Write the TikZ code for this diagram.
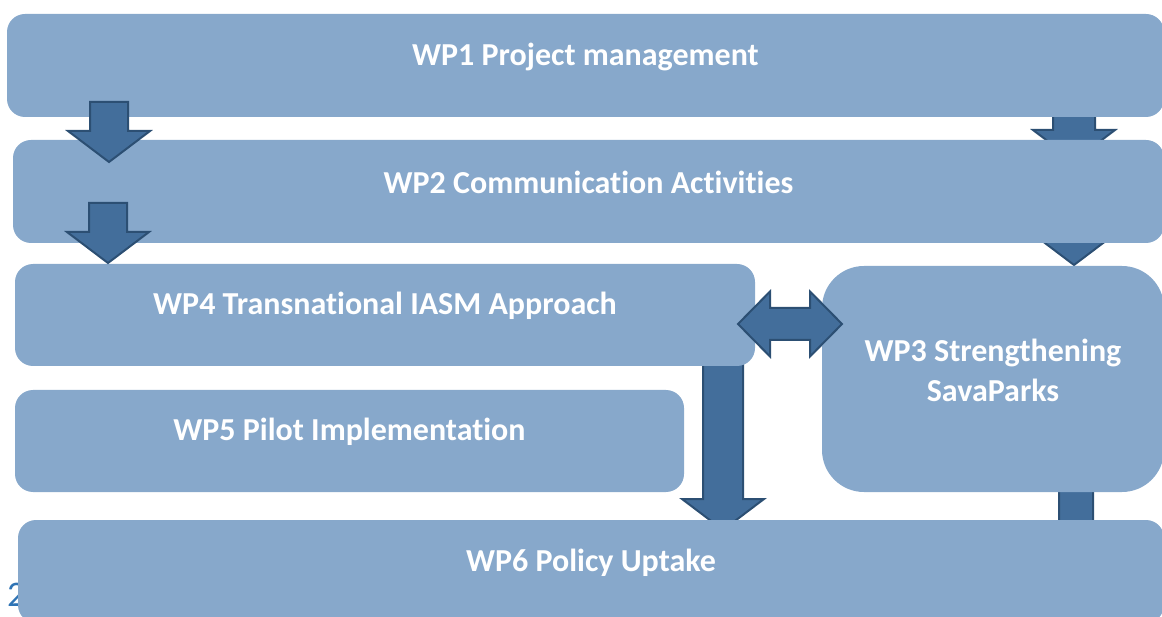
\documentclass[tikz,border=0pt]{standalone}
\usepackage{fontspec}
\setmainfont{Carlito}[RawFeature={-liga}]
\usepackage{xcolor}

\definecolor{boxblue}{HTML}{87A8CB}
\definecolor{arrowblue}{HTML}{436E9B}
\definecolor{arrowline}{HTML}{2C4F73}
\definecolor{pagenum}{HTML}{2F74B5}

\begin{document}
\begin{tikzpicture}[x=1pt, y=-1pt,
  wpbox/.style={fill=boxblue, draw=none, rounded corners=18pt, inner sep=0},
  wptext/.style={text=white, font=\fontsize{32}{40}\selectfont\bfseries, align=center},
  blockarrow/.style={fill=arrowblue, draw=arrowline, line width=2pt, line join=miter}]
\useasboundingbox (0,0) rectangle (1162,617);

\node[text=pagenum, font=\fontsize{36}{36}\selectfont, anchor=base west, inner sep=0] (pagenr) at (7,606) {2};

% arrows hidden behind the boxes: centre x / top y / shaft length / shaft half width
\foreach \cx/\ytop/\len/\sw in {1074/101/29/21, 1074/205/29/21, 723/340/159/20, 1076/470/60/17} {
 \draw[blockarrow] (\cx-\sw,\ytop) -- (\cx+\sw,\ytop) -- (\cx+\sw,\ytop+\len) -- (\cx+41,\ytop+\len)
  -- (\cx,\ytop+\len+31) -- (\cx-41,\ytop+\len) -- (\cx-\sw,\ytop+\len) -- cycle;
}

% work packages
\node[wpbox, minimum width=1157, minimum height=103] (wp1) at (585.5,65.5) {};
\node[wpbox, minimum width=1151, minimum height=103] (wp2) at (588.5,191.5) {};
\node[wpbox, minimum width=740, minimum height=102] (wp4) at (385,315) {};
\node[wpbox, minimum width=342, minimum height=226, rounded corners=42pt] (wp3) at (993,379) {};
\node[wpbox, minimum width=669, minimum height=102] (wp5) at (349.5,441) {};
\node[wpbox, minimum width=1146, minimum height=103] (wp6) at (591,571.5) {};

% arrows on top of the boxes
\foreach \cx/\ytop in {109/102, 108/203} {
 \draw[blockarrow] (\cx-19,\ytop) -- (\cx+19,\ytop) -- (\cx+19,\ytop+29) -- (\cx+41,\ytop+29)
  -- (\cx,\ytop+60) -- (\cx-41,\ytop+29) -- (\cx-19,\ytop+29) -- cycle;
}
\draw[blockarrow] (738,324) -- (770,291.5) -- (770,308) -- (810,308) -- (810,291.5) -- (842,324)
 -- (810,356.5) -- (810,340) -- (770,340) -- (770,356.5) -- cycle;

% labels
\node[wptext, yshift=9pt] (t1) at (wp1) {WP1 Project management};
\node[wptext, yshift=9pt] (t2) at (wp2) {WP2 Communication Activities};
\node[wptext, yshift=9pt] (t4) at (wp4) {WP4 Transnational IASM Approach};
\node[wptext, yshift=9pt] (t3) at (wp3) {WP3 Strengthening\\SavaParks};
\node[wptext, yshift=9pt] (t5) at (wp5) {WP5 Pilot Implementation};
\node[wptext, yshift=9pt] (t6) at (wp6) {WP6 Policy Uptake};
\end{tikzpicture}
\end{document}
